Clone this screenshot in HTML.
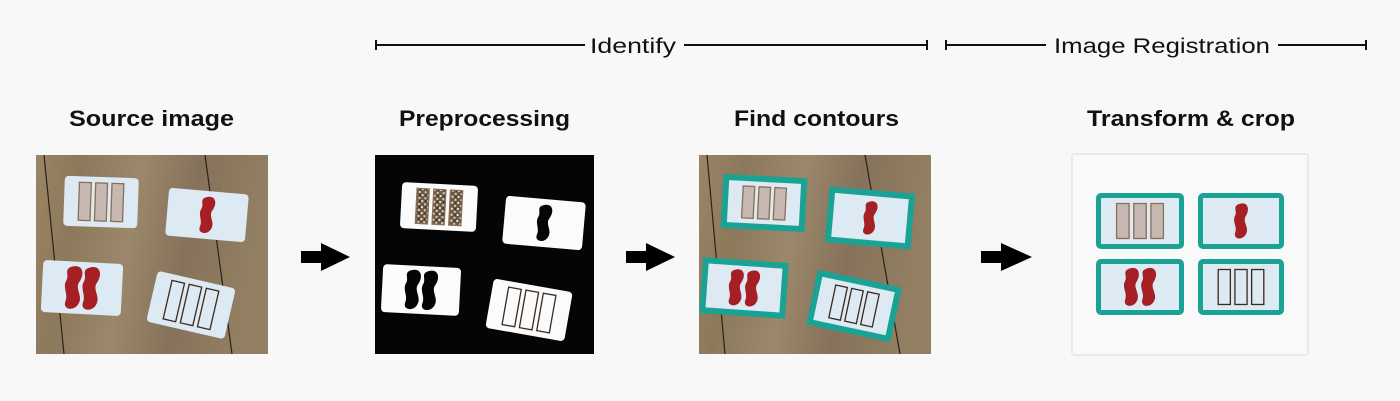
<!DOCTYPE html>
<html><head><meta charset="utf-8">
<style>
html,body{margin:0;padding:0;background:#f8f8f8;}
svg{display:block;}
text{font-family:"Liberation Sans",sans-serif;fill:#111;}
</style></head>
<body>
<svg id="fig" width="1400" height="401" viewBox="0 0 1400 401">
  <defs>
    <linearGradient id="wood" x1="0" y1="0" x2="1" y2="0.15">
      <stop offset="0" stop-color="#9a8566"/>
      <stop offset="0.2" stop-color="#8c785a"/>
      <stop offset="0.45" stop-color="#9b876a"/>
      <stop offset="0.7" stop-color="#86725a"/>
      <stop offset="1" stop-color="#937f62"/>
    </linearGradient>
    <pattern id="noise" width="6" height="6" patternUnits="userSpaceOnUse">
      <rect width="6" height="6" fill="#6a5a45"/>
      <rect x="0" y="0" width="2" height="2" fill="#e8e0d0"/>
      <rect x="3" y="3" width="2" height="2" fill="#d8ccb8"/>
      <rect x="4" y="0" width="1" height="2" fill="#222"/>
    </pattern>
  </defs>

  <g>
    <line x1="376" y1="45" x2="585" y2="45" stroke="#111" stroke-width="2"/>
    <line x1="684" y1="45" x2="927" y2="45" stroke="#111" stroke-width="2"/>
    <line x1="376" y1="40" x2="376" y2="50" stroke="#111" stroke-width="2"/>
    <line x1="927" y1="40" x2="927" y2="50" stroke="#111" stroke-width="2"/>
    <text x="590" y="53" font-size="21" textLength="86" lengthAdjust="spacingAndGlyphs">Identify</text>
  </g>
  <g>
    <line x1="946" y1="45" x2="1046" y2="45" stroke="#111" stroke-width="2"/>
    <line x1="1278" y1="45" x2="1366" y2="45" stroke="#111" stroke-width="2"/>
    <line x1="946" y1="40" x2="946" y2="50" stroke="#111" stroke-width="2"/>
    <line x1="1366" y1="40" x2="1366" y2="50" stroke="#111" stroke-width="2"/>
    <text x="1054" y="53" font-size="21" textLength="216" lengthAdjust="spacingAndGlyphs">Image Registration</text>
  </g>

  <text x="69" y="126" font-size="22" font-weight="bold" textLength="165" lengthAdjust="spacingAndGlyphs">Source image</text>
  <text x="399" y="126" font-size="22" font-weight="bold" textLength="171" lengthAdjust="spacingAndGlyphs">Preprocessing</text>
  <text x="734" y="126" font-size="22" font-weight="bold" textLength="165" lengthAdjust="spacingAndGlyphs">Find contours</text>
  <text x="1087" y="126" font-size="22" font-weight="bold" textLength="208" lengthAdjust="spacingAndGlyphs">Transform &amp; crop</text>

  <g>
    <rect x="36" y="155" width="232" height="199" fill="url(#wood)"/>
    <path d="M44,155 L64,354 M205,155 L232,354" stroke="#2a2218" stroke-width="1.2" fill="none"/>
    <g id="srcCards"></g>
  </g>
  <g>
    <rect x="375" y="155" width="219" height="199" fill="#050505"/>
    <g id="preCards"></g>
  </g>
  <g>
    <rect x="699" y="155" width="232" height="199" fill="url(#wood)"/>
    <path d="M707,155 L725,354 M865,155 L900,354" stroke="#2a2218" stroke-width="1.2" fill="none"/>
    <g id="conCards"></g>
  </g>
  <g>
    <rect x="1072" y="154" width="236" height="201" fill="#f9f9f9" stroke="#e2e6ee" stroke-width="1.5" rx="2"/>
    <g id="trCards"></g>
  </g>

  <g><rect x="301" y="251" width="22" height="12" fill="#000"/><polygon points="321,243 350,257 321,271" fill="#000"/></g>
  <g><rect x="626" y="251" width="22" height="12" fill="#000"/><polygon points="646,243 675,257 646,271" fill="#000"/></g>
  <g><rect x="981" y="251" width="22" height="12" fill="#000"/><polygon points="1001,243 1032,257 1001,271" fill="#000"/></g>
</svg>
<script>
var SQ = "M-1,-15 C6,-17 8,-10 4,-4 C1,1 8,6 4,12 C1,17 -7,16 -5,10 C-3,5 -8,0 -5,-5 C-3,-9 -8,-13 -1,-15 Z";
function content(type, mode, w, h){
  var s = "";
  var red = mode === "pre" ? "#050505" : "#a51f24";
  if (type === "bars" || type === "empty"){
    var bw = w*0.16, bh = h*0.76, gap = w*0.06;
    for (var i=-1;i<=1;i++){
      var x = i*(bw+gap) - bw/2;
      var fill = type === "empty" ? "none" : (mode === "pre" ? "url(#noise)" : "#c7b9b1");
      var stroke = type === "empty" ? "#3a2a1c" : "#8a6f55";
      s += '<rect x="'+x+'" y="'+(-bh/2)+'" width="'+bw+'" height="'+bh+'" fill="'+fill+'" stroke="'+stroke+'" stroke-width="1.3"/>';
    }
  } else if (type === "one"){
    s += '<path d="'+SQ+'" fill="'+red+'" transform="scale('+(h/40)+')"/>';
  } else {
    s += '<path d="'+SQ+'" fill="'+red+'" transform="translate('+(-w*0.11)+',0) scale('+(h/37)+')"/>';
    s += '<path d="'+SQ+'" fill="'+red+'" transform="translate('+(w*0.11)+',0) scale('+(h/37)+')"/>';
  }
  return s;
}
function card(gid, c, mode, nm){
  var g = document.createElementNS("http://www.w3.org/2000/svg","g");
  
  
  g.setAttribute("transform","translate("+c[0]+","+c[1]+") rotate("+c[4]+")");
  var w=c[2], h=c[3], s="";
  if (mode === "con" || mode === "tr"){
    var b = mode === "tr" ? 5 : 6;
    s += '<rect x="'+(-w/2)+'" y="'+(-h/2)+'" width="'+w+'" height="'+h+'" rx="'+(mode==="tr"?5:1)+'" fill="#1aa394"/>';
    s += '<rect x="'+(-w/2+b)+'" y="'+(-h/2+b)+'" width="'+(w-2*b)+'" height="'+(h-2*b)+'" fill="#dde9f3"/>';
    s += content(c[5], mode, w-2*b, h-2*b);
  } else {
    s += '<rect x="'+(-w/2)+'" y="'+(-h/2)+'" width="'+w+'" height="'+h+'" rx="4" fill="'+(mode==="pre"?"#fbfbfb":"#dde9f3")+'"/>';
    s += content(c[5], mode, w, h);
  }
  g.innerHTML = s;
  document.getElementById(gid).appendChild(g);
}
var src = [[101,202,74,50,2,"bars"],[207,215,80,48,5,"one"],[82,288,80,52,3,"two"],[191,305,80,52,13,"empty"]];
var pre = [[439,207,76,46,3,"bars"],[544,223,80,48,5,"one"],[421,290,78,48,3,"two"],[529,310,80,50,10,"empty"]];
var con = [[764,203,84,54,3,"bars"],[870,218,86,56,5,"one"],[744,288,86,56,4,"two"],[854,306,86,56,12,"empty"]];
var tr = [[1140,221,88,56,0,"bars"],[1241,221,86,56,0,"one"],[1140,287,88,56,0,"two"],[1241,287,86,56,0,"empty"]];
src.forEach(function(c,i){card("srcCards",c,"src","source-card-"+(i+1));});
pre.forEach(function(c,i){card("preCards",c,"pre","preprocessed-card-"+(i+1));});
con.forEach(function(c,i){card("conCards",c,"con","contour-card-"+(i+1));});
tr.forEach(function(c,i){card("trCards",c,"tr","cropped-card-"+(i+1));});
</script>
</body></html>
